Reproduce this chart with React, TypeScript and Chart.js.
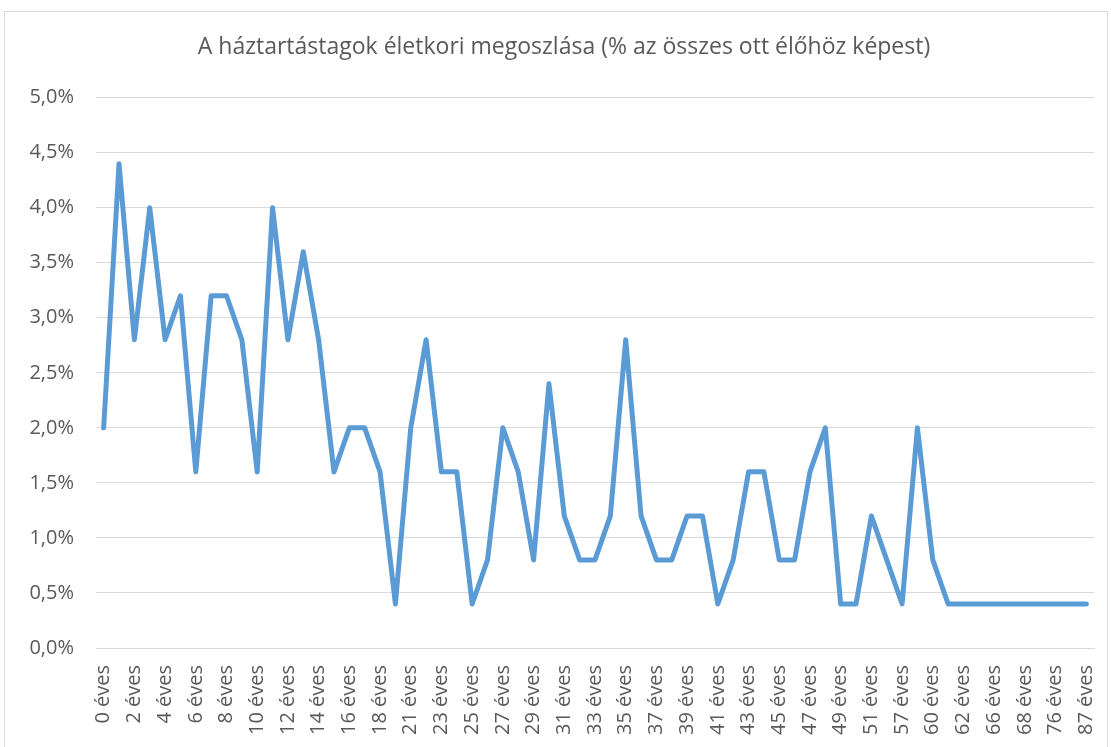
import React, { useEffect, useRef } from "react";
import { Chart, registerables } from "chart.js";

Chart.register(...registerables);

const TITLE = "A háztartástagok életkori megoszlása (% az összes ott élőhöz képest)";

const AGES: number[] = [
  0, 1, 2, 3, 4, 5, 6, 7, 8, 9, 10, 11, 12, 13, 14, 15, 16, 17, 18, 20,
  21, 22, 23, 24, 25, 26, 27, 28, 29, 30, 31, 32, 33, 34, 35, 36, 37, 38, 39, 40,
  41, 42, 43, 44, 45, 46, 47, 48, 49, 50, 51, 54, 57, 58, 60, 61, 62, 64, 66, 67,
  68, 72, 76, 80, 87,
];

const CATEGORIES: string[] = AGES.map((a) => `${a} éves`);

const SHARE: number[] = [
  2.0, 4.4, 2.8, 4.0, 2.8, 3.2, 1.6, 3.2, 3.2, 2.8,
  1.6, 4.0, 2.8, 3.6, 2.8, 1.6, 2.0, 2.0, 1.6, 0.4,
  2.0, 2.8, 1.6, 1.6, 0.4, 0.8, 2.0, 1.6, 0.8, 2.4,
  1.2, 0.8, 0.8, 1.2, 2.8, 1.2, 0.8, 0.8, 1.2, 1.2,
  0.4, 0.8, 1.6, 1.6, 0.8, 0.8, 1.6, 2.0, 0.4, 0.4,
  1.2, 0.8, 0.4, 2.0, 0.8, 0.4, 0.4, 0.4, 0.4, 0.4,
  0.4, 0.4, 0.4, 0.4, 0.4,
];

const Y_MIN = 0;
const Y_MAX = 5;
const Y_STEP = 0.5;

const FONT = "'Open Sans', 'Noto Sans', sans-serif";
const TEXT = "#595959";
const GRID = "#d9d9d9";
const LINE = "#5B9BD5";

export default function App() {
  const ref = useRef<HTMLCanvasElement | null>(null);

  useEffect(() => {
    if (!ref.current) return;
    const chart = new Chart(ref.current, {
      type: "line",
      data: {
        labels: CATEGORIES,
        datasets: [
          {
            data: SHARE,
            borderColor: LINE,
            backgroundColor: LINE,
            borderWidth: 5,
            pointRadius: 0,
            tension: 0,
            borderCapStyle: "round",
            borderJoinStyle: "round",
            fill: false,
          },
        ],
      },
      options: {
        responsive: false,
        animation: false,
        devicePixelRatio: 1,
        layout: { padding: { left: 16, right: 0, top: 22, bottom: 0 } },
        plugins: {
          legend: { display: false },
          tooltip: { enabled: false },
          title: {
            display: true,
            text: TITLE,
            color: TEXT,
            font: { family: FONT, size: 23, weight: "normal", lineHeight: 1.2 },
            padding: { top: 0, bottom: 36 },
          },
        },
        scales: {
          x: {
            type: "category",
            offset: true,
            grid: { display: false, drawTicks: false },
            border: { display: true, color: GRID, width: 1 },
            ticks: {
              autoSkip: false,
              minRotation: 90,
              maxRotation: 90,
              padding: 17,
              color: TEXT,
              font: { family: FONT, size: 20 },
              callback: (_v: any, i: number) => (i % 2 === 0 ? CATEGORIES[i] : ""),
            },
            afterFit: (s: any) => {
              s.height = 99;
              s.paddingLeft = 0;
              s.paddingRight = 13;
            },
          },
          y: {
            min: Y_MIN,
            max: Y_MAX,
            grid: { color: GRID, lineWidth: 1, drawTicks: false },
            border: { display: false },
            ticks: {
              stepSize: Y_STEP,
              padding: 22,
              color: TEXT,
              font: { family: FONT, size: 20 },
              callback: (v: any) => Number(v).toFixed(1).replace(".", ",") + "%",
            },
            afterFit: (s: any) => {
              s.width = 75;
              s.paddingTop = 0;
              s.paddingBottom = 0;
            },
          },
        },
      },
    });
    return () => chart.destroy();
  }, []);

  return (
    <div
      style={{
        position: "absolute",
        left: 4,
        top: 11,
        width: 1104,
        height: 736,
        border: "1px solid #d9d9d9",
        borderBottom: "none",
        boxSizing: "border-box",
        background: "#fff",
        overflow: "hidden",
      }}
    >
      <canvas ref={ref} width={1102} height={735} style={{ display: "block" }} />
    </div>
  );
}
